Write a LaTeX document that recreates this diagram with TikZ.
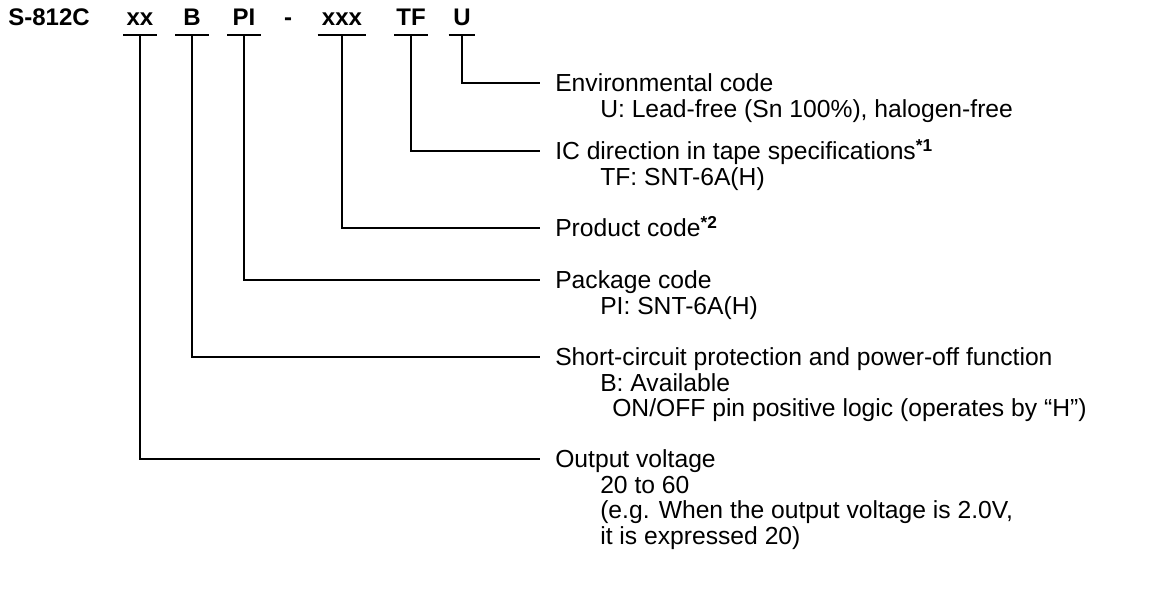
\documentclass[tikz,border=0pt]{standalone}
\usepackage{fontspec}
\setmainfont{Liberation Sans}
\usetikzlibrary{positioning}

\tikzset{
  code/.style={font=\fontsize{18}{21}\selectfont\bfseries, anchor=base, inner sep=0pt,
    text depth=6.75pt, minimum width=24.75pt},
  head/.style={anchor=west, inner xsep=11.25pt, inner ysep=0pt,
    text height=13.2pt, text depth=0pt},
  sub/.style={anchor=base west, inner sep=0pt},
}

\begin{document}
\begin{tikzpicture}[x=0.75pt, y=-0.75pt, font=\fontsize{18.5}{19.1}\selectfont]
    \useasboundingbox (0,0) rectangle (1166,591);
    % part number
    \node[code] (name) at (49,26) {S-812C};
    \node[code] (xx) at (140,26) {xx};
    \node[code] (b) at (192,26) {B};
    \node[code] (pi) at (244,26) {PI};
    \node[code, minimum width=0pt] (dash) at (288,26) {-};
    \node[code, minimum width=36pt] (xxx) at (342,26) {xxx};
    \node[code] (tf) at (411,26) {TF};
    \node[code, minimum width=19.5pt] (u) at (462,26) {U};

    % headings
    \node[head] (env) at (540,83) {Environmental code};
    \node[head] (dir) at (540,151) {IC direction in tape specifications\textsuperscript{\bfseries *1}};
    \node[head] (prod) at (540,228) {Product code\textsuperscript{\bfseries *2}};
    \node[head] (pack) at (540,280) {Package code};
    \node[head] (short) at (540,357) {Short-circuit protection and power-off function};
    \node[head] (out) at (540,459) {Output voltage};

    % details
    \node[sub] at ([xshift=45pt, yshift=-19.1pt]env.base west) {U: Lead-free (Sn 100\%), halogen-free};
    \node[sub] at ([xshift=45pt, yshift=-19.1pt]dir.base west) {TF: SNT-6A(H)};
    \node[sub] at ([xshift=45pt, yshift=-19.1pt]pack.base west) {PI: SNT-6A(H)};
    \node[sub] at ([xshift=45pt, yshift=-19.1pt]short.base west) {B: Available};
    \node[sub] at ([xshift=54pt, yshift=-38.2pt]short.base west) {ON/OFF pin positive logic (operates by “H”)};
    \foreach \t [count=\i] in {20 to 60, {(e.g. When the output voltage is 2.0V,}, it is expressed 20)}
        \node[sub] at ([xshift=45pt, yshift=-\i*19.1pt]out.base west) {\t};

    % leaders
    \foreach \c/\h in {xx/out, b/short, pi/pack, xxx/prod, tf/dir, u/env}
        \draw[line width=1.2pt] (\c.south west) -- (\c.south east) (\c.south) |- (\h.west);
\end{tikzpicture}
\end{document}
